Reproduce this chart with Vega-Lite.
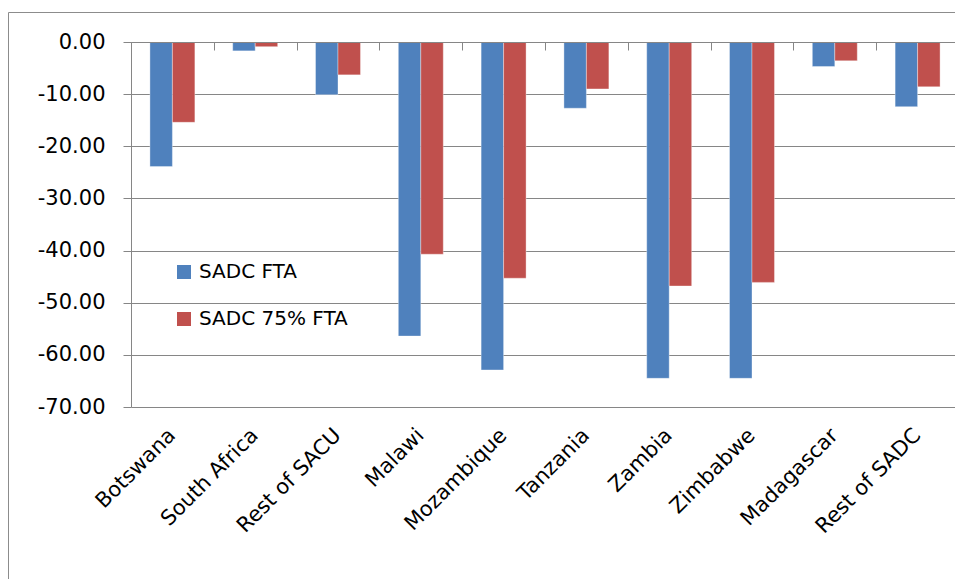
{
  "$schema": "https://vega.github.io/schema/vega-lite/v6.json",
  "autosize": "none",
  "width": 960,
  "height": 590,
  "padding": {"left": 8, "top": 12, "right": -13, "bottom": -23},
  "background": "#ffffff",
  "config": {
    "font": "DejaVu Sans",
    "view": {"stroke": "#8c8c8c", "strokeWidth": 1},
    "axis": {
      "labelFont": "DejaVu Sans",
      "labelFontSize": 21,
      "labelColor": "#000000",
      "domainColor": "#868686",
      "tickColor": "#868686",
      "gridColor": "#868686",
      "title": null
    },
    "legend": {
      "labelFont": "DejaVu Sans",
      "labelFontSize": 20,
      "labelColor": "#000000"
    }
  },
  "data": {
    "values": [
      {"region": "Botswana", "scenario": "SADC FTA", "change": -23.9},
      {"region": "Botswana", "scenario": "SADC 75% FTA", "change": -15.4},
      {"region": "South Africa", "scenario": "SADC FTA", "change": -1.7},
      {"region": "South Africa", "scenario": "SADC 75% FTA", "change": -0.9},
      {"region": "Rest of SACU", "scenario": "SADC FTA", "change": -10.1},
      {"region": "Rest of SACU", "scenario": "SADC 75% FTA", "change": -6.3},
      {"region": "Malawi", "scenario": "SADC FTA", "change": -56.4},
      {"region": "Malawi", "scenario": "SADC 75% FTA", "change": -40.7},
      {"region": "Mozambique", "scenario": "SADC FTA", "change": -62.9},
      {"region": "Mozambique", "scenario": "SADC 75% FTA", "change": -45.3},
      {"region": "Tanzania", "scenario": "SADC FTA", "change": -12.7},
      {"region": "Tanzania", "scenario": "SADC 75% FTA", "change": -9.0},
      {"region": "Zambia", "scenario": "SADC FTA", "change": -64.5},
      {"region": "Zambia", "scenario": "SADC 75% FTA", "change": -46.8},
      {"region": "Zimbabwe", "scenario": "SADC FTA", "change": -64.5},
      {"region": "Zimbabwe", "scenario": "SADC 75% FTA", "change": -46.1},
      {"region": "Madagascar", "scenario": "SADC FTA", "change": -4.7},
      {"region": "Madagascar", "scenario": "SADC 75% FTA", "change": -3.6},
      {"region": "Rest of SADC", "scenario": "SADC FTA", "change": -12.4},
      {"region": "Rest of SADC", "scenario": "SADC 75% FTA", "change": -8.6}
    ]
  },
  "resolve": {"axis": {"x": "independent"}},
  "layer": [
    {
      "mark": {"type": "bar", "stroke": "#ffffff", "strokeWidth": 0.6, "strokeOpacity": 0.6},
      "encoding": {
        "x": {
          "field": "region",
          "type": "nominal",
          "sort": null,
          "scale": {"range": [123, 951], "paddingInner": 0, "paddingOuter": 0},
          "axis": {
            "orient": "bottom",
            "offset": -560,
            "labels": false,
            "domain": true,
            "ticks": true,
            "tickBand": "extent",
            "tickSize": 8,
            "grid": false,
            "zindex": 1
          }
        },
        "xOffset": {
          "field": "scenario",
          "type": "nominal",
          "sort": ["SADC FTA", "SADC 75% FTA"],
          "scale": {"paddingInner": 0, "paddingOuter": 0.842}
        },
        "y": {
          "field": "change",
          "type": "quantitative",
          "scale": {"domain": [-70, 0], "range": [395, 30], "nice": false, "zero": true},
          "axis": {
            "orient": "left",
            "offset": -123,
            "values": [0, -10, -20, -30, -40, -50, -60, -70],
            "labelExpr": "replace(format(datum.value, '.2f'), '\u2212', '-')",
            "tickSize": 8,
            "labelPadding": 18,
            "grid": true,
            "domain": true
          }
        },
        "color": {
          "field": "scenario",
          "type": "nominal",
          "sort": ["SADC FTA", "SADC 75% FTA"],
          "scale": {"domain": ["SADC FTA", "SADC 75% FTA"], "range": ["#4F81BD", "#C0504D"]},
          "legend": {
            "title": null,
            "orient": "none",
            "legendX": 166,
            "legendY": 250,
            "direction": "vertical",
            "symbolType": "square",
            "symbolSize": 196,
            "symbolStrokeWidth": 0,
            "rowPadding": 27,
            "labelOffset": 5,
            "padding": 0
          }
        }
      }
    },
    {
      "mark": {"type": "bar", "opacity": 0},
      "encoding": {
        "x": {
          "field": "region",
          "type": "nominal",
          "sort": null,
          "axis": {
            "orient": "bottom",
            "offset": -195,
            "domain": false,
            "ticks": false,
            "tickSize": 0,
            "grid": false,
            "labelAngle": -45,
            "labelAlign": "right",
            "labelBaseline": "middle",
            "labelPadding": 25
          }
        },
        "xOffset": {"field": "scenario", "type": "nominal", "sort": ["SADC FTA", "SADC 75% FTA"]},
        "y": {"field": "change", "type": "quantitative"}
      }
    }
  ]
}
